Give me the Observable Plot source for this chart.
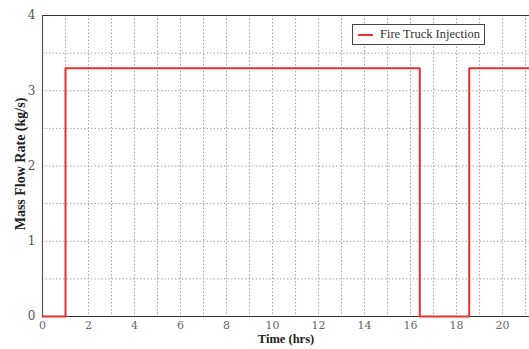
<!DOCTYPE html>
<html>
<head>
<meta charset="utf-8">
<script src="https://cdn.jsdelivr.net/npm/d3@7"></script>
<script src="https://cdn.jsdelivr.net/npm/@observablehq/plot@0.6"></script>
<style>
  body { margin: 0; background: #fff; }
  #wrap { position: relative; width: 529px; height: 349px; overflow: hidden; }
  #legend {
    position: absolute; left: 352px; top: 24px; width: 133px; height: 21px;
    border: 1px solid #444; background: #fff; box-sizing: border-box;
    font-family: "Liberation Serif", serif; font-size: 12.5px; color: #333;
    display: flex; align-items: center; white-space: nowrap;
  }
  #legend .sw { display: inline-block; width: 15px; height: 0; border-top: 2px solid #e8302e; margin: 0 7px 0 5px; }
</style>
</head>
<body>
<div id="wrap"></div>
<script>
const seriesName = "Fire Truck Injection";
const timeHrs = [0, 1.0, 16.4, 18.55, 21.3];
const flowRate = [0, 3.3, 0, 3.3, 3.3];
const xTicks = [0, 2, 4, 6, 8, 10, 12, 14, 16, 18, 20];
const yTicks = [0, 1, 2, 3, 4];
const xGrid = [1, 2, 3, 4, 5, 6, 7, 8, 9, 10, 11, 12, 13, 14, 15, 16, 17, 18, 19, 20, 21];
const yGrid = [0.5, 1, 1.5, 2, 2.5, 3, 3.5];

const data = timeHrs.map((t, i) => ({t, v: flowRate[i]}));

const chart = Plot.plot({
  width: 529,
  height: 349,
  marginLeft: 42,
  marginRight: 0,
  marginTop: 15,
  marginBottom: 33,
  style: {fontFamily: "DejaVu Serif, serif", fontSize: "11px", color: "#444", background: "#fff"},
  x: {domain: [0, 21.17], label: null},
  y: {domain: [0, 4], label: null},
  marks: [
    Plot.ruleX(xGrid, {stroke: "#999", strokeDasharray: "1.5,2", strokeWidth: 0.9}),
    Plot.ruleY(yGrid, {stroke: "#999", strokeDasharray: "1.5,2", strokeWidth: 0.9}),
    Plot.axisX({ticks: xTicks, tickFormat: "d", tickSize: 0, tickPadding: 5, fill: "#666", fontSize: 11, label: null}),
    Plot.axisY({ticks: yTicks, tickFormat: "d", tickSize: 0, tickPadding: 7, fill: "#555", fontSize: 12, label: null}),
    Plot.ruleY([0], {stroke: "#333", strokeWidth: 1.2}),
    Plot.ruleY([4], {stroke: "#333", strokeWidth: 1.2}),
    Plot.ruleX([0], {stroke: "#555", strokeWidth: 1.2}),
    Plot.line(data, {x: "t", y: "v", curve: "step-after", stroke: "#e8302e", strokeWidth: 2}),
    Plot.text(["Time (hrs)"], {frameAnchor: "bottom", dy: 26, fontFamily: "Liberation Serif, serif", fontWeight: "bold", fontSize: 12.5, fill: "#222"}),
    Plot.text(["Mass Flow Rate (kg/s)"], {frameAnchor: "left", textAnchor: "middle", dx: -22, dy: -2, rotate: -90, fontFamily: "Liberation Serif, serif", fontWeight: "bold", fontSize: 14, fill: "#222"})
  ]
});
const wrap = document.getElementById("wrap");
wrap.appendChild(chart);
const lg = document.createElement("div");
lg.id = "legend";
lg.innerHTML = '<span class="sw"></span><span></span>';
lg.lastChild.textContent = seriesName;
wrap.appendChild(lg);
</script>
</body>
</html>
